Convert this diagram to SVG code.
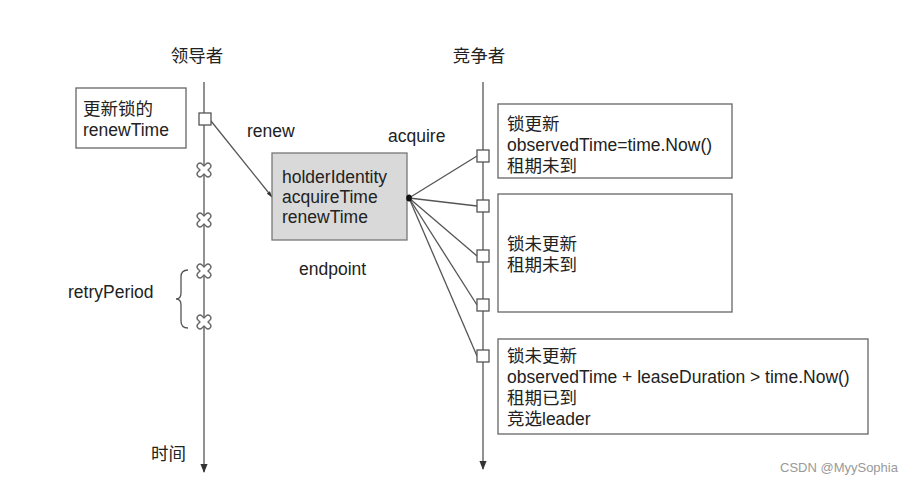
<svg xmlns="http://www.w3.org/2000/svg" width="919" height="485" viewBox="0 0 919 485">
<defs>
<style>
text{font-family:"Liberation Sans",Arial,"Noto Sans CJK SC",sans-serif;font-size:17.5px;fill:#222}
.ln{stroke:#555;stroke-width:1.3;fill:none}
.box{fill:#fff;stroke:#666;stroke-width:1.3}
.sq{fill:#fff;stroke:#555;stroke-width:1.3}
.xo{stroke:#666;stroke-width:7;stroke-linecap:round}
.xi{stroke:#fff;stroke-width:4.4;stroke-linecap:round}
</style>
<marker id="ah" viewBox="0 0 10 10" refX="9" refY="5" markerWidth="7" markerHeight="7" orient="auto"><path d="M0,1 L10,5 L0,9 z" fill="#333"/></marker>
<marker id="ah2" viewBox="0 0 10 10" refX="9" refY="5" markerWidth="5" markerHeight="5" orient="auto"><path d="M0,2 L10,5 L0,8 z" fill="#333"/></marker>
<g id="xm"><line class="xo" x1="-4" y1="-4" x2="4" y2="4"/><line class="xo" x1="-4" y1="4" x2="4" y2="-4"/><line class="xi" x1="-4" y1="-4" x2="4" y2="4"/><line class="xi" x1="-4" y1="4" x2="4" y2="-4"/></g>
</defs>
<rect width="919" height="485" fill="#fff"/>
<g id="titles">
<text x="197" y="62" text-anchor="middle">领导者</text>
<text x="479" y="62" text-anchor="middle">竞争者</text>
</g>
<g id="connectors">
<line class="ln" x1="204" y1="82" x2="204" y2="472" marker-end="url(#ah)"/>
<line class="ln" x1="483" y1="82" x2="483" y2="469" marker-end="url(#ah)"/>
<line class="ln" x1="211" y1="121" x2="272" y2="197" marker-end="url(#ah2)"/>
<line class="ln" x1="409" y1="198" x2="477" y2="156"/>
<line class="ln" x1="409" y1="198" x2="477" y2="206"/>
<line class="ln" x1="409" y1="198" x2="477" y2="256"/>
<line class="ln" x1="409" y1="198" x2="477" y2="305"/>
<line class="ln" x1="409" y1="198" x2="477" y2="356"/>
<path class="ln" d="M188,270 Q181,270 181,277 L181,293 Q181,299 176,299 Q181,299 181,305 L181,321 Q181,328 188,328"/>
</g>
<g id="leader-note">
<rect class="box" x="76" y="88" width="110" height="60"/>
<text x="83" y="115">更新锁的</text>
<text x="83" y="136">renewTime</text>
</g>
<g id="leader-marks">
<rect class="sq" x="199" y="113" width="12" height="12"/>
<use href="#xm" x="204" y="170"/>
<use href="#xm" x="204" y="220"/>
<use href="#xm" x="204" y="271"/>
<use href="#xm" x="204" y="322"/>
</g>
<g id="endpoint">
<rect x="272" y="153" width="135" height="87" fill="#d9d9d9" stroke="#777" stroke-width="1.3"/>
<text x="282" y="183">holderIdentity</text>
<text x="282" y="203">acquireTime</text>
<text x="282" y="223">renewTime</text>
<ellipse cx="409" cy="198" rx="2.8" ry="3.5" fill="#111"/>
</g>
<g id="labels">
<text x="247" y="137">renew</text>
<text x="388" y="142">acquire</text>
<text x="299" y="275">endpoint</text>
<text x="68" y="298">retryPeriod</text>
<text x="151" y="460">时间</text>
</g>
<g id="competitor-marks">
<rect class="sq" x="477" y="150" width="12" height="12"/>
<rect class="sq" x="477" y="200" width="12" height="12"/>
<rect class="sq" x="477" y="250" width="12" height="12"/>
<rect class="sq" x="477" y="299" width="12" height="12"/>
<rect class="sq" x="477" y="350" width="12" height="12"/>
</g>
<g id="box1">
<rect class="box" x="498" y="104" width="234" height="74"/>
<text x="507" y="130">锁更新</text>
<text x="507" y="151">observedTime=time.Now()</text>
<text x="507" y="172">租期未到</text>
</g>
<g id="box2">
<rect class="box" x="498" y="194" width="234" height="118"/>
<text x="507" y="250">锁未更新</text>
<text x="507" y="271">租期未到</text>
</g>
<g id="box3">
<rect class="box" x="498" y="339" width="370" height="95"/>
<text x="507" y="362">锁未更新</text>
<text x="507" y="383">observedTime + leaseDuration &gt; time.Now()</text>
<text x="507" y="404">租期已到</text>
<text x="507" y="425">竞选leader</text>
</g>
<text x="780" y="472" style="font-size:13px;fill:#999">CSDN @MyySophia</text>
</svg>
